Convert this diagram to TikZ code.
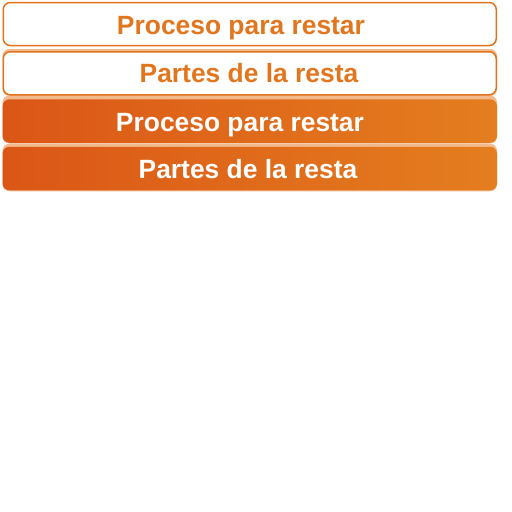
\documentclass[tikz,border=0pt]{standalone}
\usepackage{fontspec}
\setmainfont{Liberation Sans}
\definecolor{orline}{HTML}{E2731C}
\definecolor{ortext}{HTML}{E2761E}
\definecolor{orleft}{HTML}{DB5616}
\definecolor{orright}{HTML}{E47E1F}
\definecolor{orpale}{HTML}{F2B98C}
\tikzset{
  outbox/.style={draw=orline, line width=1.5pt, fill=white, rounded corners=7pt,
    minimum width=493pt, minimum height=43pt, inner sep=0pt},
  fillbox/.style={rounded corners=7pt, left color=orleft, right color=orright,
    minimum width=494.5pt, minimum height=43.5pt, inner sep=0pt, draw=none},
  halo/.style={rounded corners=7pt, fill=orpale, draw=none,
    minimum width=494.5pt, inner sep=0pt},
  lbl/.style={anchor=base, inner sep=0pt, font=\fontsize{26.4}{30}\selectfont\bfseries},
}
\begin{document}
\begin{tikzpicture}[x=1pt,y=-1pt]
\useasboundingbox (0,0) rectangle (512,512);
\fill[white] (0,0) rectangle (512,512);
% halos
\node[halo, minimum height=47pt] (h2) at (249.75,72.5) {};
\node[halo, minimum height=48pt] (h3) at (249.75,119.5) {};
\node[halo, minimum height=47.5pt] (h4) at (249.75,167.5) {};
% boxes
\node[outbox] (b1) at (249.75,24) {};
\node[outbox] (b2) at (249.75,73.25) {};
\node[fillbox] (b3) at (249.75,121) {};
\node[fillbox] (b4) at (249.75,168.5) {};
% labels
\node[lbl, text=ortext] (t1) at (241,34.5) {Proceso para restar};
\node[lbl, text=ortext] (t2) at (249,82) {Partes de la resta};
\node[lbl, text=white] (t3) at (240,131) {Proceso para restar};
\node[lbl, text=white] (t4) at (248,178) {Partes de la resta};
\end{tikzpicture}
\end{document}
